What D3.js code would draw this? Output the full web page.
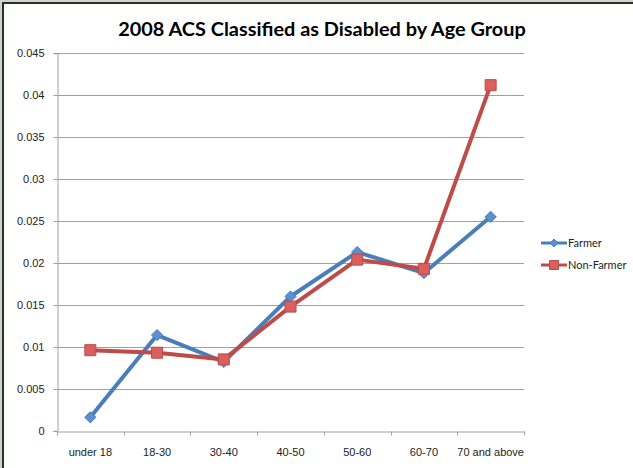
<!DOCTYPE html>
<html>
<head>
<meta charset="utf-8">
<script src="https://cdn.jsdelivr.net/npm/d3@7"></script>
<style>
  body { margin: 0; background: #fff; }
  svg { display: block; font-family: Lato, 'Open Sans', sans-serif; }
</style>
</head>
<body>
<div id="container"></div>
<script>
const categories = ['under 18', '18-30', '30-40', '40-50', '50-60', '60-70', '70 and above'];
const farmer = [0.0016, 0.0114, 0.0082, 0.0160, 0.0213, 0.0188, 0.0255];
const nonFarmer = [0.0096, 0.0093, 0.0085, 0.0148, 0.0204, 0.0193, 0.0412];
const yTicks = [0, 0.005, 0.01, 0.015, 0.02, 0.025, 0.03, 0.035, 0.04, 0.045];
const seriesNames = ['Farmer', 'Non-Farmer'];

const width = 633, height = 468;
const margin = { top: 53.3, right: 109, bottom: 37.3, left: 57 };

const svg = d3.select('#container').append('svg')
  .attr('width', width)
  .attr('height', height);

// window frame (top / left edges)
svg.append('rect').attr('width', width).attr('height', height).attr('fill', '#cbd4cd');
svg.append('rect').attr('x', 2).attr('y', 2).attr('width', width).attr('height', height).attr('fill', '#2b2f2c');
svg.append('rect').attr('x', 4).attr('y', 4).attr('width', width).attr('height', height).attr('fill', '#fff');

const x = d3.scaleBand()
  .domain(categories)
  .range([margin.left, width - margin.right]);

const y = d3.scaleLinear()
  .domain([0, 0.045])
  .range([height - margin.bottom, margin.top]);

svg.append('text')
  .attr('x', 322)
  .attr('y', 36)
  .attr('text-anchor', 'middle')
  .style('font-size', '19.9px')
  .style('font-weight', 'bold')
  .style('fill', '#000')
  .text('2008 ACS Classified as Disabled by Age Group');

// gridlines
svg.append('g')
  .selectAll('line')
  .data(yTicks.slice(1))
  .enter()
  .append('line')
  .attr('x1', margin.left)
  .attr('x2', width - margin.right)
  .attr('y1', (d) => Math.round(y(d)) + 0.5)
  .attr('y2', (d) => Math.round(y(d)) + 0.5)
  .attr('stroke', '#a0a0a0')
  .attr('stroke-width', 1);

// y axis
const yAxis = svg.append('g')
  .attr('transform', `translate(${margin.left + 0.5},0)`)
  .call(d3.axisLeft(y).tickValues(yTicks).tickSize(4).tickPadding(9).tickFormat((d) => String(+d.toFixed(3))));
yAxis.select('.domain').attr('stroke', '#a0a0a0');
yAxis.selectAll('.tick line').attr('stroke', '#a0a0a0');
yAxis.selectAll('.tick')
  .attr('transform', (d) => `translate(0,${Math.round(y(d)) + 0.5})`);
yAxis.selectAll('text').style('font-size', '11px').style('fill', '#222').attr('dy', '0.35em');

// x axis
const xAxis = svg.append('g')
  .attr('transform', `translate(0,${Math.round(y(0)) + 0.5})`)
  .call(d3.axisBottom(x).tickSize(0).tickPadding(17));
xAxis.select('.domain').attr('stroke', '#a0a0a0');
xAxis.selectAll('text').style('font-size', '11px').style('fill', '#222');
xAxis.append('g')
  .selectAll('line')
  .data(categories.map((c) => x(c)).concat([x.range()[1]]))
  .enter()
  .append('line')
  .attr('x1', (d) => Math.round(d) + 0.5)
  .attr('x2', (d) => Math.round(d) + 0.5)
  .attr('y1', 0)
  .attr('y2', 4)
  .attr('stroke', '#a0a0a0');

const cx = (i) => x(categories[i]) + x.bandwidth() / 2;
const line = d3.line()
  .x((d, i) => cx(i))
  .y((d) => y(d));

const colors = ['#4a7ebb', '#be4b48'];
const fills = ['#5b8fd0', '#d9605c'];

const diamond = d3.symbol().type(d3.symbolDiamond2).size(80);

[farmer, nonFarmer].forEach((data, s) => {
  svg.append('path')
    .datum(data)
    .attr('d', line)
    .attr('fill', 'none')
    .attr('stroke', colors[s])
    .attr('stroke-width', 4)
    .attr('stroke-linejoin', 'round');
});

[farmer, nonFarmer].forEach((data, s) => {
  svg.append('g')
    .selectAll('path')
    .data(data)
    .enter()
    .append('path')
    .attr('transform', (d, i) => `translate(${cx(i)},${y(d)})`)
    .attr('d', s === 0 ? diamond() : 'M-5.5,-5.5H5.5V5.5H-5.5Z')
    .attr('fill', fills[s])
    .attr('stroke', colors[s])
    .attr('stroke-width', 1);
});

// legend
const legend = svg.append('g')
  .selectAll('g')
  .data(seriesNames)
  .enter()
  .append('g')
  .attr('transform', (d, i) => `translate(541,${243 + i * 22})`);

legend.append('line')
  .attr('x1', 0).attr('x2', 26)
  .attr('stroke', (d, i) => colors[i])
  .attr('stroke-width', 3);

legend.append('path')
  .attr('transform', 'translate(13,0)')
  .attr('d', (d, i) => i === 0 ? d3.symbol().type(d3.symbolDiamond2).size(40)() : 'M-4.5,-4.5H4.5V4.5H-4.5Z')
  .attr('fill', (d, i) => fills[i])
  .attr('stroke', (d, i) => colors[i]);

legend.append('text')
  .attr('x', 27)
  .attr('dy', '0.35em')
  .style('font-size', '11px')
  .style('fill', '#222')
  .text((d) => d);
</script>
</body>
</html>
